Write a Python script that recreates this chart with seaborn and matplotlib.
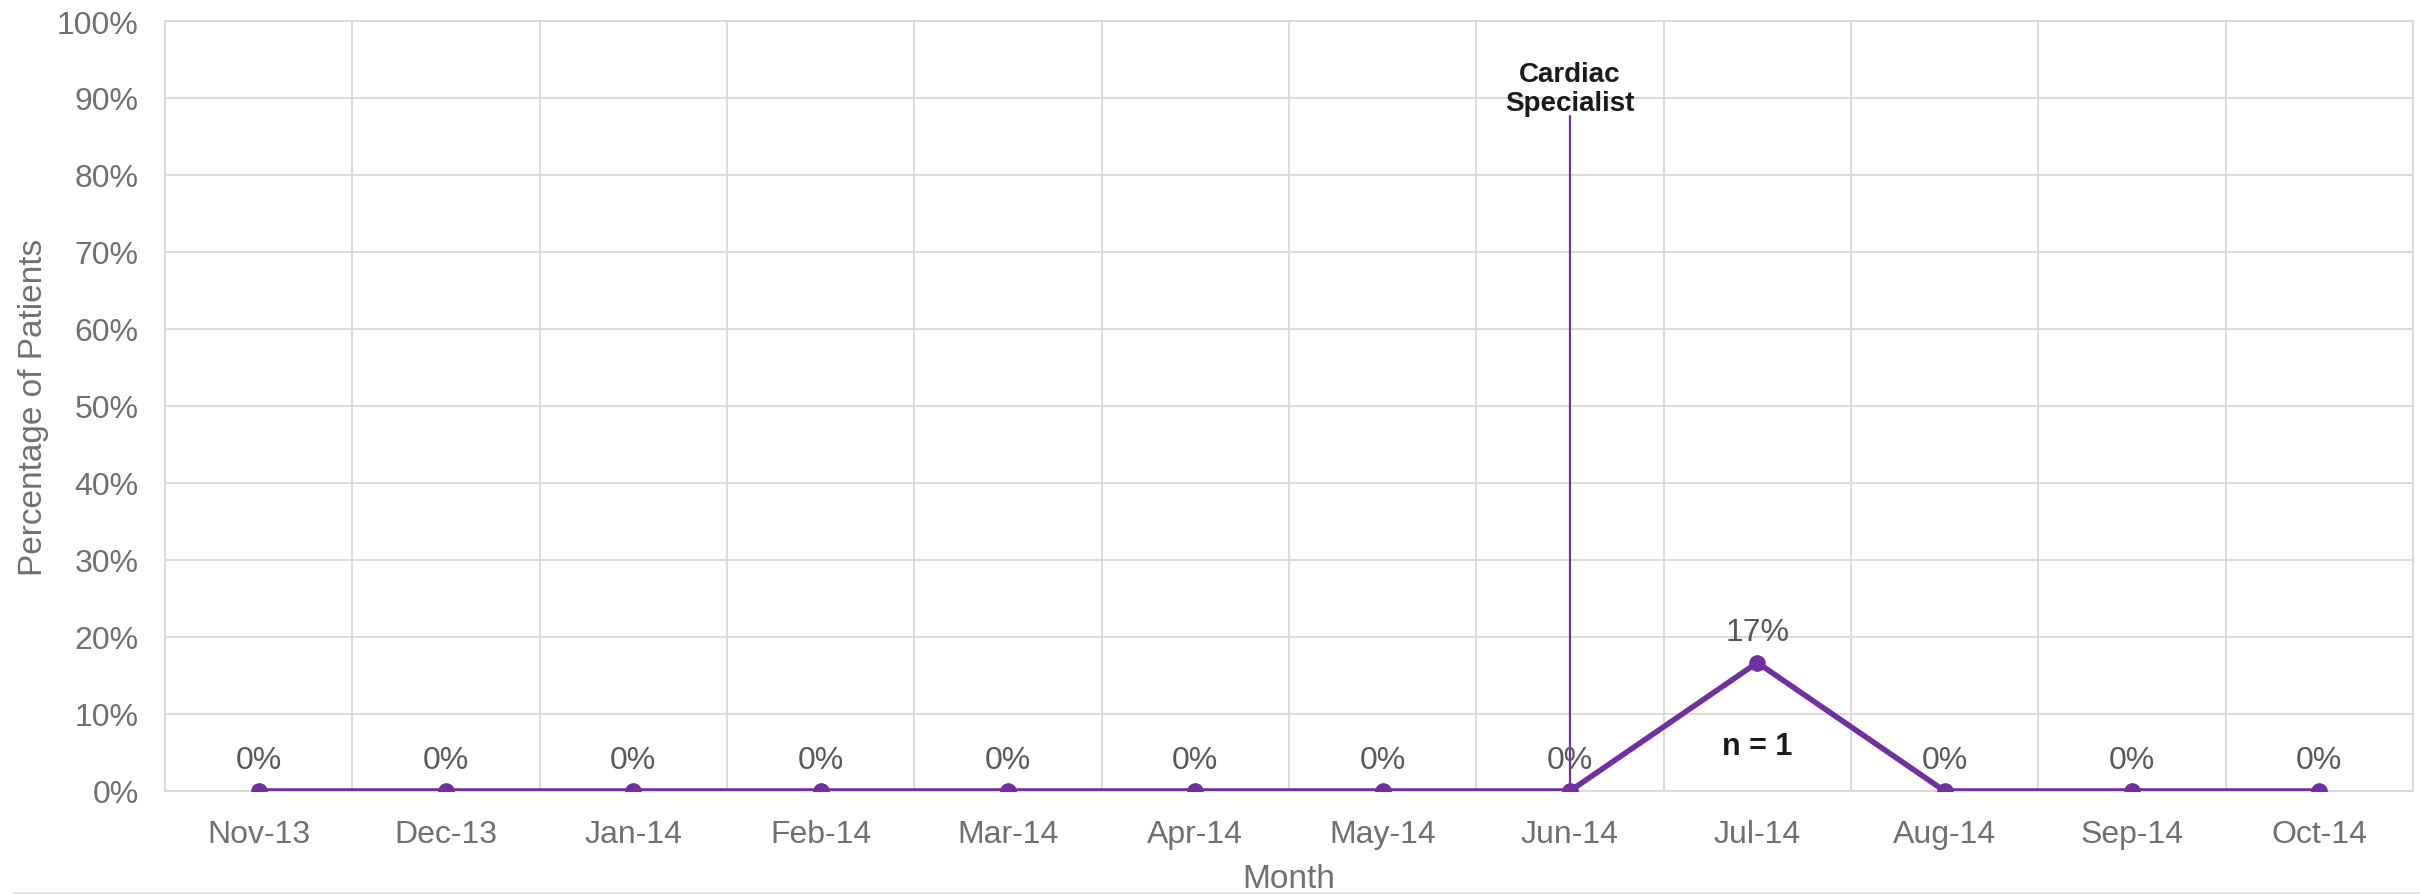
import numpy as np
import pandas as pd
import matplotlib
matplotlib.use("Agg")
import matplotlib.pyplot as plt
from matplotlib.lines import Line2D
import seaborn as sns

# --- data ---
months = ["Nov-13", "Dec-13", "Jan-14", "Feb-14", "Mar-14", "Apr-14",
          "May-14", "Jun-14", "Jul-14", "Aug-14", "Sep-14", "Oct-14"]
pct_patients = [0, 0, 0, 0, 0, 0, 0, 0, 16.67, 0, 0, 0]
pct_labels = ["0%", "0%", "0%", "0%", "0%", "0%", "0%", "0%", "17%", "0%", "0%", "0%"]
event_month = "Jun-14"
event_label = "Cardiac\nSpecialist"
n_month = "Jul-14"
n_label = "n = 1"

df = pd.DataFrame({"Month": months, "Pct": pct_patients})
df["pos"] = np.arange(len(months))

sns.set_style("white")
plt.rcParams['font.family'] = ['Liberation Sans', 'DejaVu Sans']

purple = "#7030A0"
grid_c = "#D9D9D9"
tick_c = "#707070"
label_c = "#595959"

fig = plt.figure(figsize=(24.2, 8.95), dpi=100)
ax = fig.add_axes([165 / 2420, 1 - 792 / 895, (2413 - 165) / 2420, (792 - 22) / 895])

# event marker line
ev = months.index(event_month)
ax.plot([ev, ev], [0, 87.7], color=purple, lw=1.6, zorder=2)
ax.text(ev, 91.2, event_label, ha="center", va="center", fontsize=20,
        fontweight="bold", color="#1a1a1a", linespacing=1.15, zorder=5)

sns.lineplot(data=df, x="pos", y="Pct", ax=ax, color=purple, linewidth=4,
             marker="o", markersize=12, markeredgewidth=0, zorder=4)

# data labels
for i, (v, lab) in enumerate(zip(pct_patients, pct_labels)):
    ax.annotate(lab, (i, v), xytext=(0, 11.5), textcoords="offset points",
                ha="center", va="bottom", fontsize=23, color=label_c, zorder=5)

nm = months.index(n_month)
ax.text(nm, 5.8, n_label, ha="center", va="center", fontsize=22,
        fontweight="bold", color="#1a1a1a")

ax.set_xlim(-0.5, len(months) - 0.5)
ax.set_ylim(0, 100)
ax.set_xticks(np.arange(len(months)))
ax.set_xticklabels(months)
ax.set_xticks(np.arange(len(months) + 1) - 0.5, minor=True)
ax.set_yticks(np.arange(0, 101, 10))
ax.set_yticklabels([f"{t}%" for t in range(0, 101, 10)])

ax.grid(False)
ax.grid(axis="x", which="minor", color=grid_c, lw=1.3)
ax.grid(axis="y", which="major", color=grid_c, lw=1.3)
ax.set_axisbelow(True)
ax.tick_params(axis="both", which="both", length=0, labelsize=23, colors=tick_c)
ax.tick_params(axis="x", pad=20)
ax.tick_params(axis="y", pad=19)

for s in ax.spines.values():
    s.set_color(grid_c)
    s.set_linewidth(1.3)

ax.set_xlabel("Month", fontsize=24, color=tick_c, labelpad=10)
ax.set_ylabel("Percentage of Patients", fontsize=24, color=tick_c, labelpad=6)

fig.add_artist(Line2D([14 / 2420, 1], [1.2 / 895, 1.2 / 895], color="#E3E3E3", lw=1.3))

fig.savefig("out.png", dpi=100)
